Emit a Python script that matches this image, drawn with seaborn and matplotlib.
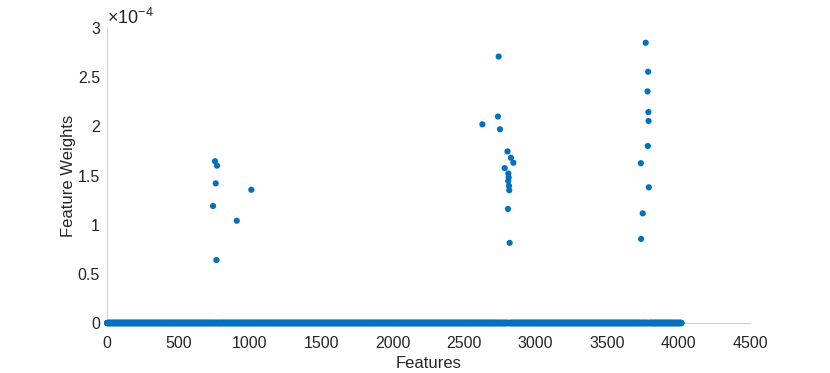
import numpy as np
import pandas as pd
import matplotlib
matplotlib.use('Agg')
import matplotlib.pyplot as plt
import seaborn as sns

# Data: feature indices with non-zero weights (weights in units of 1e-4)
n_features = 4020
nz_features = [742, 756, 761, 766, 770, 908, 1010,
               2627, 2736, 2741, 2750, 2783, 2803, 2806, 2808, 2809, 2811,
               2813, 2815, 2818, 2827, 2844,
               3736, 3738, 3749, 3770, 3783, 3785, 3787, 3789, 3790, 3792]
nz_weights = [1.19, 1.645, 1.42, 0.64, 1.60, 1.04, 1.355,
              2.02, 2.10, 2.71, 1.97, 1.575, 1.745, 1.16, 1.445, 1.52, 1.48,
              1.395, 1.35, 0.815, 1.68, 1.63,
              1.625, 0.855, 1.115, 2.85, 2.355, 1.80, 2.555, 2.145, 2.055, 1.38]

features = np.arange(1, n_features + 1)
weights = np.zeros(n_features)
for f, w in zip(nz_features, nz_weights):
    weights[f - 1] = w * 1e-4

df = pd.DataFrame({"Features": features, "Weights": weights})

sns.set_style("white")
plt.rcParams['font.family'] = ['Liberation Sans', 'DejaVu Sans']
plt.rcParams['mathtext.fontset'] = 'custom'
plt.rcParams['mathtext.rm'] = 'Liberation Sans'
plt.rcParams['mathtext.it'] = 'Liberation Sans'

fig = plt.figure(figsize=(8.3, 3.73), dpi=100)
ax = fig.add_axes([107 / 830, 50 / 373, 643 / 830, 295 / 373])
sns.scatterplot(data=df, x="Features", y="Weights", ax=ax, color="#0072BD",
                s=20, linewidth=0, edgecolor="none", zorder=3)

ax.set_xlim(0, 4500)
ax.set_ylim(0, 3e-4)
ax.set_xticks(np.arange(0, 4501, 500))
ax.set_yticks(np.arange(0, 3.01e-4, 0.5e-4))
ax.set_yticklabels(["0", "0.5", "1", "1.5", "2", "2.5", "3"])
ax.set_xlabel("Features", fontsize=12, color="#262626", labelpad=4)
ax.set_ylabel("Feature Weights", fontsize=12, color="#262626", labelpad=1)
ax.text(0, 1.0, r"$\times10^{-4}$", transform=ax.transAxes, fontsize=13,
        color="#262626", ha="left", va="bottom")

for side in ["top", "right"]:
    ax.spines[side].set_visible(False)
for side in ["left", "bottom"]:
    ax.spines[side].set_color("#d0d0d0")
    ax.spines[side].set_linewidth(0.8)
ax.tick_params(direction="in", length=4, color="#d0d0d0", labelsize=11.5,
               labelcolor="#262626")
ax.tick_params(axis="x", pad=9)
ax.tick_params(axis="y", pad=5)
ax.collections[0].set_clip_on(False)

fig.savefig("out.png", dpi=100)
